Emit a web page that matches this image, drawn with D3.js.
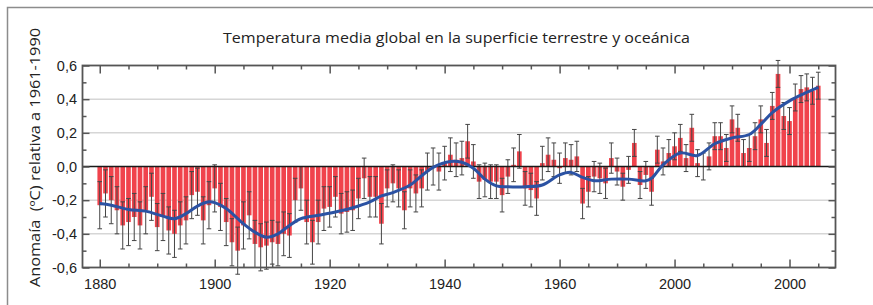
<!DOCTYPE html>
<html>
<head>
<meta charset="utf-8">
<script src="https://cdn.jsdelivr.net/npm/d3@7"></script>
<style>
  html, body { margin: 0; padding: 0; background: #fff; }
  svg { display: block; font-family: "Open Sans", "Noto Sans", sans-serif; }
</style>
</head>
<body>
<svg id="chart"></svg>
<script>
// annual anomalies 1880-2005 (ºC, relative to 1961-1990)
const firstYear = 1880;
const anomalies = [
  -0.23, -0.16, -0.20, -0.26, -0.35, -0.33, -0.30, -0.35, -0.26, -0.18,
  -0.36, -0.30, -0.38, -0.40, -0.35, -0.32, -0.17, -0.15, -0.32, -0.23,
  -0.13, -0.24, -0.33, -0.45, -0.50, -0.35, -0.29, -0.46, -0.48, -0.47,
  -0.45, -0.46, -0.40, -0.41, -0.20, -0.13, -0.33, -0.45, -0.33, -0.25,
  -0.24, -0.18, -0.28, -0.27, -0.26, -0.19, -0.07, -0.18, -0.18, -0.34,
  -0.13, -0.10, -0.13, -0.26, -0.13, -0.16, -0.13, -0.03, 0.00, -0.03,
  0.02, 0.07, 0.04, 0.05, 0.15, 0.03, -0.09, -0.08, -0.09, -0.09,
  -0.17, -0.06, 0.01, 0.09, -0.13, -0.14, -0.19, 0.02, 0.07, 0.04,
  -0.01, 0.05, 0.04, 0.06, -0.22, -0.15, -0.06, -0.07, -0.10, 0.05,
  -0.03, -0.12, -0.02, 0.14, -0.11, -0.05, -0.15, 0.10, 0.03, 0.08,
  0.12, 0.17, 0.05, 0.23, 0.02, 0.00, 0.06, 0.18, 0.18, 0.11,
  0.28, 0.23, 0.08, 0.11, 0.18, 0.28, 0.14, 0.36, 0.55, 0.30,
  0.27, 0.41, 0.46, 0.47, 0.45, 0.48
];
// half width of the uncertainty bars, one value per decade (1880s ... 2000s)
const errorByDecade = [0.14, 0.14, 0.14, 0.13, 0.12, 0.11, 0.10, 0.10, 0.09, 0.08, 0.08, 0.08, 0.08];
// smoothed curve (blue)
const smoothYears = [1880, 1882, 1885, 1888, 1891, 1893, 1895, 1897, 1899, 1900, 1902, 1904, 1905, 1907, 1909,
  1911, 1913, 1915, 1918, 1921, 1924, 1927, 1929, 1931, 1934, 1936, 1938, 1941, 1943, 1945, 1947, 1949,
  1951, 1954, 1957, 1960, 1962, 1964, 1966, 1969, 1972, 1975, 1976, 1978, 1981, 1984, 1987, 1990, 1993,
  1995, 1997, 2000, 2003, 2005];
const smoothValues = [-0.22, -0.23, -0.255, -0.265, -0.295, -0.31, -0.28, -0.235, -0.21, -0.215, -0.25, -0.31, -0.34, -0.39, -0.42,
  -0.40, -0.35, -0.31, -0.29, -0.27, -0.245, -0.21, -0.175, -0.155, -0.11, -0.055, -0.005, 0.03, 0.025, -0.01, -0.075, -0.115,
  -0.12, -0.12, -0.11, -0.05, -0.035, -0.065, -0.085, -0.075, -0.075, -0.085, -0.07, 0.01, 0.08, 0.065, 0.135, 0.17, 0.19,
  0.25, 0.32, 0.39, 0.44, 0.47];

const xTickYears = [1880, 1900, 1920, 1940, 1960, 1980, 2000];
const xTickLabels = ["1880", "1900", "1920", "1940", "1960", "2000", "2000"];
const yTickValues = [-0.6, -0.4, -0.2, 0.0, 0.2, 0.4, 0.6];
const yTickLabels = ["-0,6", "-0,4", "-0,2", "0,0", "0,2", "0,4", "0,6"];
const gridValues = [-0.4, -0.2, 0.2, 0.4];

const title = "Temperatura media global en la superficie terrestre y oceánica";
const yTitle = "Anomaía  (ºC) relativa a 1961-1990";

const width = 873;
const height = 305;
const plotL = 82.5, plotR = 835.5, plotT = 65.5, plotB = 267.5;

const data = anomalies.map((v, i) => {
  const year = firstYear + i;
  const e = errorByDecade[Math.floor((year - firstYear) / 10)];
  return { year: year, value: v, lo: v - e, hi: v + e };
});
const smooth = smoothYears.map((yr, i) => ({ year: yr, value: smoothValues[i] }));

const x = d3.scaleLinear().domain([1877, 2008]).range([plotL, plotR]);
const y = d3.scaleLinear().domain([-0.6, 0.6]).range([plotB, plotT]);
const barW = (x(1) - x(0)) - 1.1;

const svg = d3.select("#chart").attr("width", width).attr("height", height);

// outer frame of the figure
svg.append("path")
  .attr("d", `M7.5,${height + 2}V7.5H${width + 2}`)
  .attr("fill", "none")
  .attr("stroke", "#8c8c8c")
  .attr("stroke-width", 1.5);

svg.append("text")
  .attr("x", 456.5)
  .attr("y", 43)
  .attr("text-anchor", "middle")
  .attr("font-size", 14.5)
  .attr("textLength", 467)
  .attr("lengthAdjust", "spacingAndGlyphs")
  .attr("fill", "#222")
  .text(title);

svg.append("text")
  .attr("transform", `translate(40,${(plotT + plotB) / 2 - 9}) rotate(-90)`)
  .attr("text-anchor", "middle")
  .attr("font-size", 14)
  .attr("textLength", 259)
  .attr("lengthAdjust", "spacingAndGlyphs")
  .attr("fill", "#222")
  .style("white-space", "pre")
  .text(yTitle);

// grid
svg.append("g")
  .selectAll("line")
  .data(gridValues)
  .enter()
  .append("line")
  .attr("x1", plotL).attr("x2", plotR)
  .attr("y1", d => y(d)).attr("y2", d => y(d))
  .attr("stroke", "#d6d6d6")
  .attr("stroke-width", 1.5);

// bars
svg.append("g")
  .selectAll("rect")
  .data(data)
  .enter()
  .append("rect")
  .attr("x", d => x(d.year) - barW / 2)
  .attr("width", barW)
  .attr("y", d => y(Math.max(0, d.value)))
  .attr("height", d => Math.abs(y(d.value) - y(0)))
  .attr("fill", "#f0434c");

// error bars
const errG = svg.append("g")
  .attr("stroke", "#454545")
  .attr("stroke-width", 1);
errG.selectAll(".stem")
  .data(data)
  .enter()
  .append("line")
  .attr("x1", d => x(d.year)).attr("x2", d => x(d.year))
  .attr("y1", d => y(d.lo)).attr("y2", d => y(d.hi));
errG.selectAll(".capHi")
  .data(data)
  .enter()
  .append("line")
  .attr("x1", d => x(d.year) - 2.3).attr("x2", d => x(d.year) + 2.3)
  .attr("y1", d => y(d.hi)).attr("y2", d => y(d.hi));
errG.selectAll(".capLo")
  .data(data)
  .enter()
  .append("line")
  .attr("x1", d => x(d.year) - 2.3).attr("x2", d => x(d.year) + 2.3)
  .attr("y1", d => y(d.lo)).attr("y2", d => y(d.lo));

// zero line
svg.append("line")
  .attr("x1", plotL).attr("x2", plotR)
  .attr("y1", y(0)).attr("y2", y(0))
  .attr("stroke", "#1a1a1a")
  .attr("stroke-width", 1.3);

// smoothed curve
const line = d3.line()
  .x(d => x(d.year))
  .y(d => y(d.value))
  .curve(d3.curveCatmullRom);
svg.append("path")
  .datum(smooth)
  .attr("d", line)
  .attr("fill", "none")
  .attr("stroke", "#2b52a3")
  .attr("stroke-width", 3);

// axes (ticks point inward on all four sides)
const minorYears = d3.range(1880, 2006, 5).filter(yr => yr % 20 !== 0);
const minorY = [-0.5, -0.3, -0.1, 0.1, 0.3, 0.5];
const tickFmtX = d => xTickLabels[xTickYears.indexOf(d)];
const tickFmtY = d => yTickLabels[yTickValues.indexOf(d)];

const axes = [
  [d3.axisBottom(x).tickValues(xTickYears).tickSize(-8).tickPadding(11).tickFormat(tickFmtX), `translate(0,${plotB})`],
  [d3.axisBottom(x).tickValues(minorYears).tickSize(-4).tickFormat(""), `translate(0,${plotB})`],
  [d3.axisTop(x).tickValues(xTickYears).tickSize(-8).tickFormat(""), `translate(0,${plotT})`],
  [d3.axisTop(x).tickValues(minorYears).tickSize(-4).tickFormat(""), `translate(0,${plotT})`],
  [d3.axisLeft(y).tickValues(yTickValues).tickSize(-7).tickPadding(5.5).tickFormat(tickFmtY), `translate(${plotL},0)`],
  [d3.axisLeft(y).tickValues(minorY).tickSize(-4).tickFormat(""), `translate(${plotL},0)`],
  [d3.axisRight(y).tickValues(yTickValues).tickSize(-7).tickFormat(""), `translate(${plotR},0)`],
  [d3.axisRight(y).tickValues(minorY).tickSize(-4).tickFormat(""), `translate(${plotR},0)`]
];
axes.forEach(([axis, tr]) => {
  const g = svg.append("g").attr("transform", tr).call(axis.tickSizeOuter(0));
  g.select(".domain").remove();
  g.selectAll(".tick line").attr("stroke", "#555").attr("stroke-width", 1.5);
  g.selectAll("text").attr("font-size", 14.5).attr("fill", "#222").style("font-family", "inherit");
});

// plot frame
svg.append("rect")
  .attr("x", plotL).attr("y", plotT)
  .attr("width", plotR - plotL).attr("height", plotB - plotT)
  .attr("fill", "none")
  .attr("stroke", "#555")
  .attr("stroke-width", 1.8);
</script>
</body>
</html>
